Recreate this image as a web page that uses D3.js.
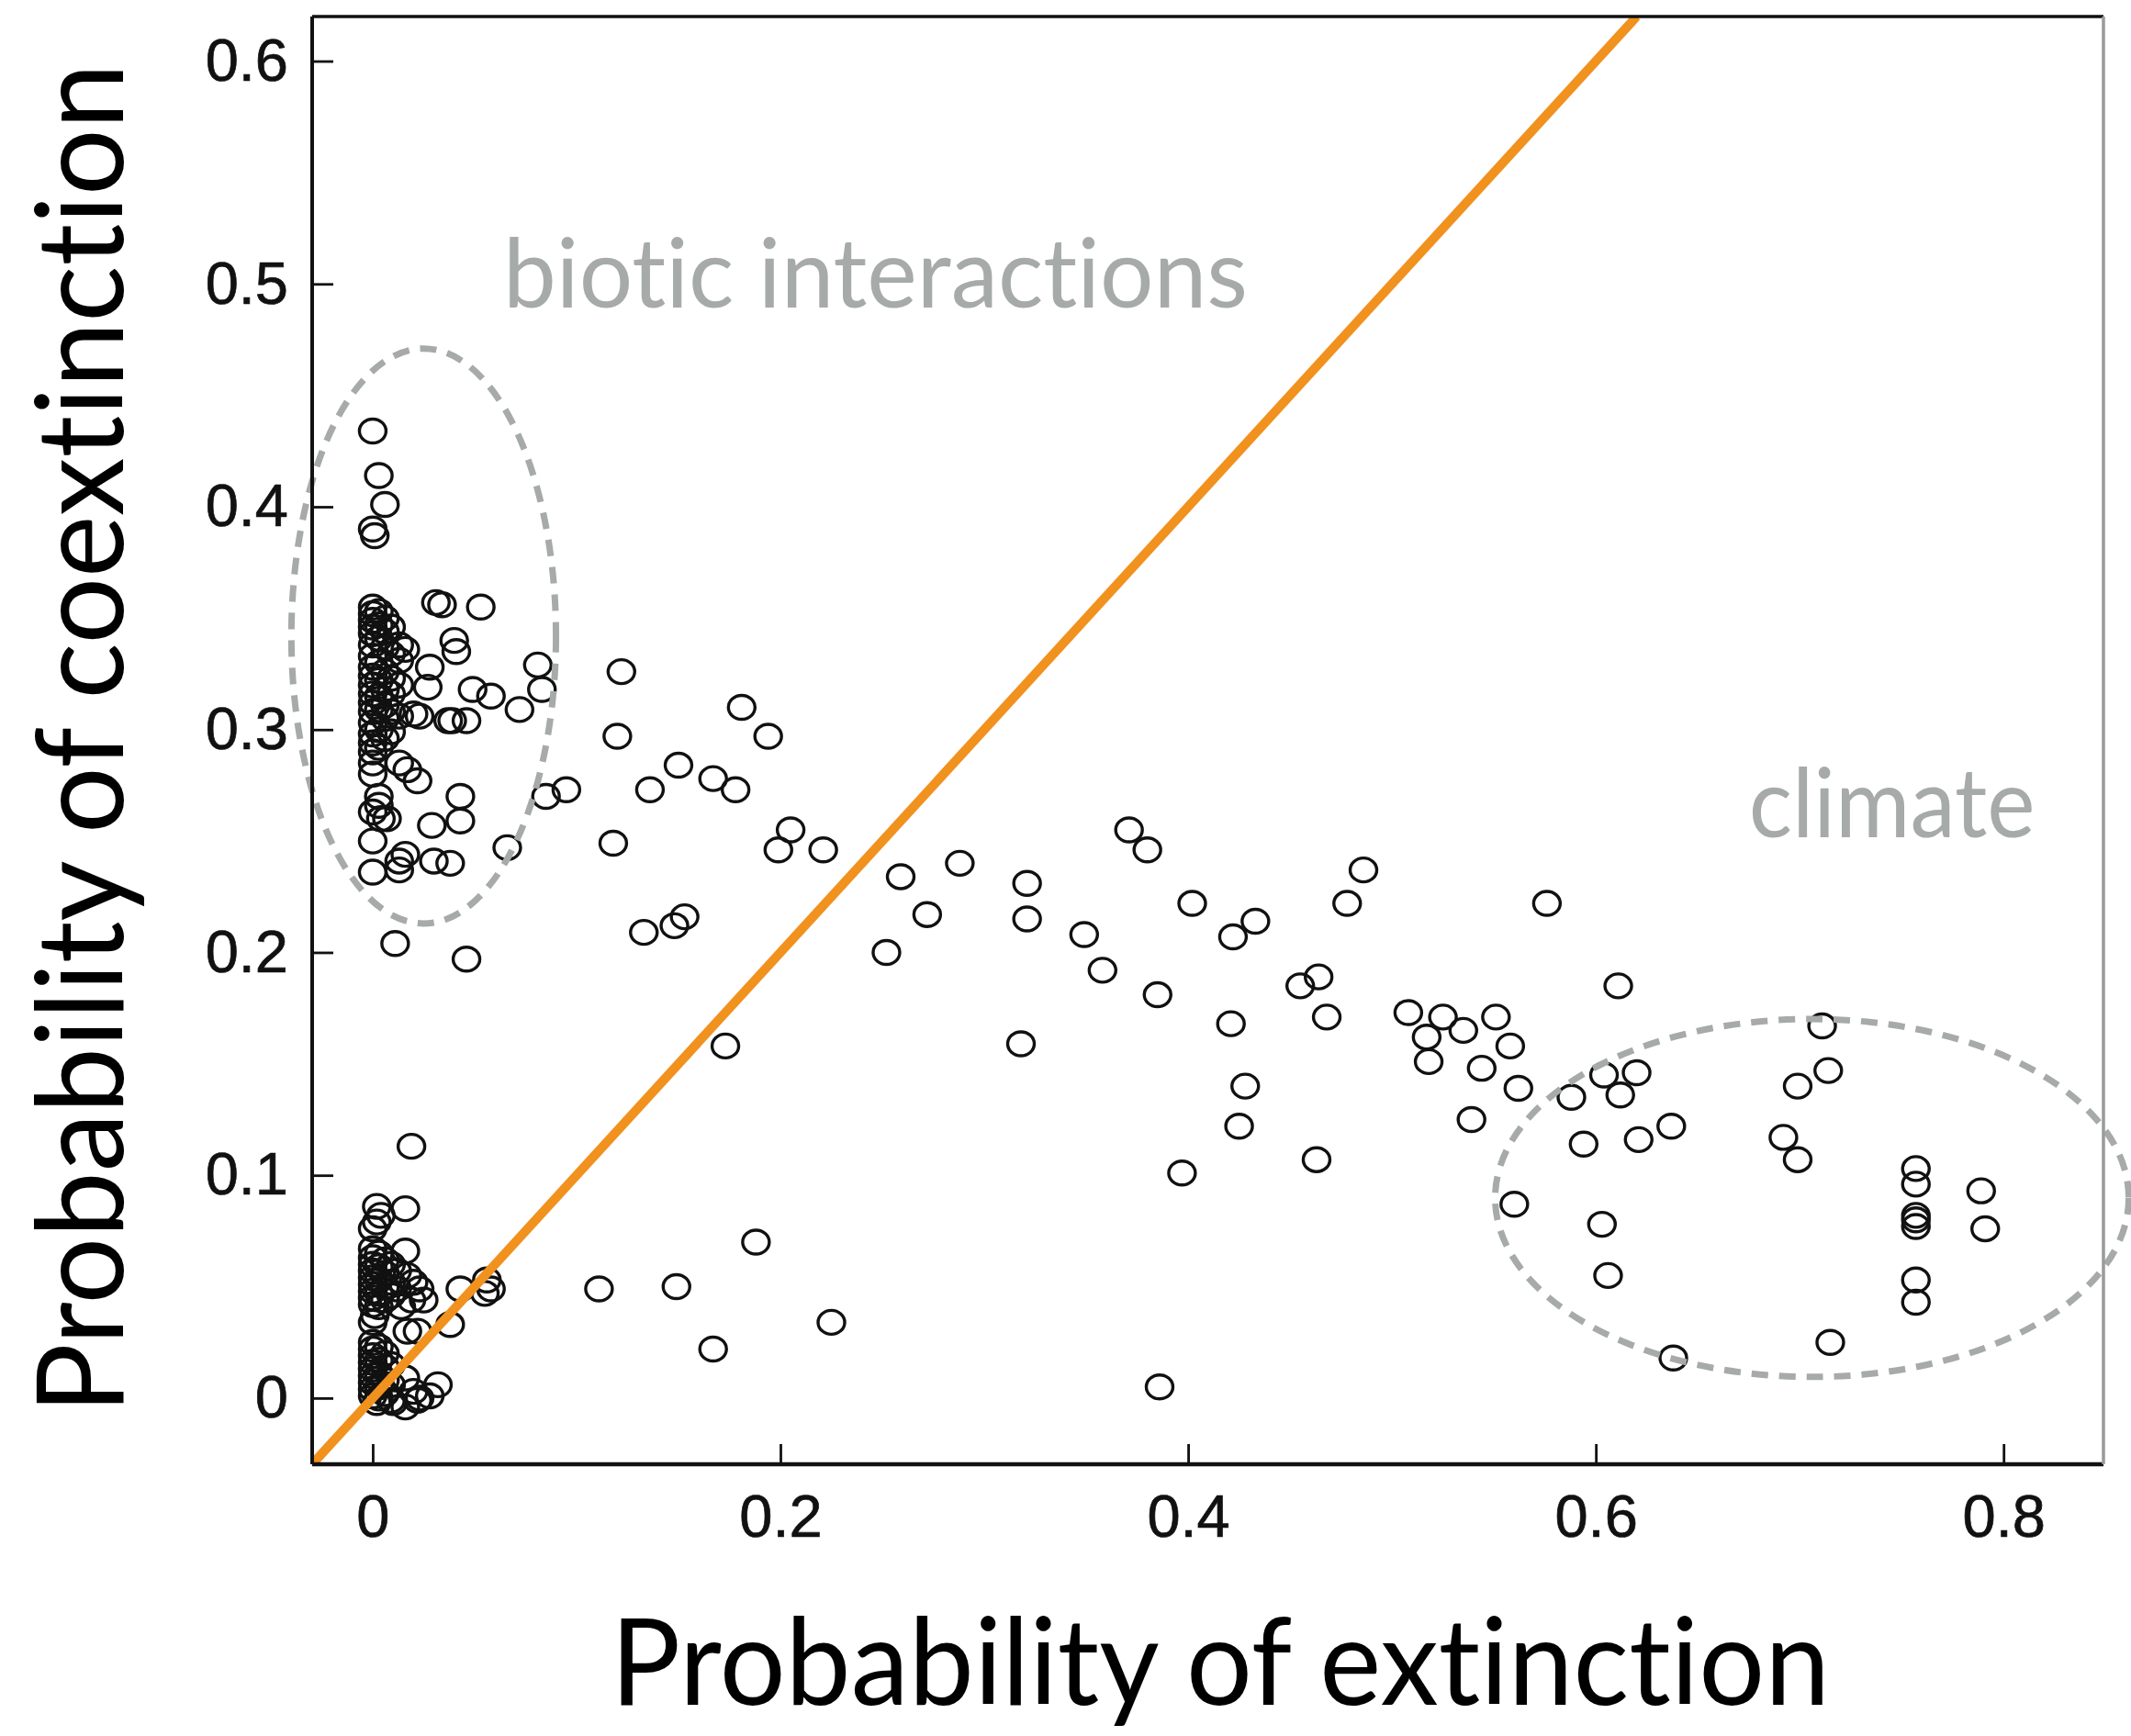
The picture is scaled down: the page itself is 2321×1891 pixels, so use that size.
<!DOCTYPE html>
<html>
<head>
<meta charset="utf-8">
<script src="https://cdn.jsdelivr.net/npm/d3@7"></script>
<style>
  body { margin: 0; background: #fff; }
  svg { display: block; }
  .humanist { font-family: Lato, 'Open Sans', sans-serif; font-variant-ligatures: none; font-feature-settings: "liga" 0, "dlig" 0, "clig" 0; }
</style>
</head>
<body>
<svg id="chart" width="2321" height="1891"></svg>
<script>
// [probability of extinction, probability of coextinction]
// Species with almost no direct extinction risk but high coextinction risk
const upperCluster = [
  [0.000,0.434],[0.003,0.414],[0.006,0.401],[0.000,0.390],[0.001,0.387],
  [0.000,0.355],[0.000,0.352],[0.000,0.349],[0.000,0.346],[0.000,0.343],[0.000,0.338],
  [0.000,0.333],[0.000,0.328],[0.000,0.324],[0.000,0.320],[0.000,0.316],[0.000,0.312],
  [0.000,0.308],[0.000,0.303],[0.000,0.298],[0.000,0.294],[0.000,0.290],[0.000,0.285],[0.000,0.280],
  [0.003,0.353],[0.003,0.347],[0.003,0.341],[0.003,0.330],[0.003,0.322],[0.003,0.315],
  [0.003,0.309],[0.003,0.300],[0.003,0.292],
  [0.006,0.350],[0.006,0.344],[0.006,0.337],[0.006,0.326],[0.006,0.318],[0.006,0.311],
  [0.006,0.305],[0.006,0.296],
  [0.009,0.346],[0.009,0.334],[0.009,0.323],[0.009,0.316],[0.009,0.308],[0.009,0.299],
  [0.013,0.338],[0.013,0.331],[0.013,0.320],[0.013,0.306],[0.016,0.336],
  [0.031,0.357],[0.034,0.356],[0.053,0.355],
  [0.040,0.340],[0.041,0.335],
  [0.028,0.328],[0.027,0.319],
  [0.049,0.318],[0.058,0.315],
  [0.081,0.329],[0.083,0.318],[0.072,0.309],
  [0.020,0.307],[0.023,0.306],
  [0.037,0.304],[0.039,0.304],[0.046,0.304],
  [0.013,0.285],[0.017,0.282],[0.022,0.277],
  [0.003,0.270],[0.043,0.270],[0.085,0.270],[0.095,0.273],
  [0.000,0.263],[0.004,0.260],[0.007,0.260],[0.003,0.266],
  [0.029,0.257],[0.043,0.259],
  [0.000,0.250],
  [0.016,0.244],[0.013,0.241],[0.030,0.241],[0.038,0.240],
  [0.000,0.236],[0.013,0.237],
  [0.066,0.247],
  [0.011,0.204],[0.046,0.197]
];

// Species with low extinction and low coextinction risk
const lowerCluster = [
  [0.019,0.113],[0.002,0.086],[0.004,0.082],[0.016,0.085],[0.002,0.079],[0.000,0.076],[0.016,0.066],
  [0.000,0.067],[0.000,0.063],[0.000,0.060],[0.000,0.057],[0.000,0.054],[0.000,0.051],
  [0.000,0.048],[0.000,0.045],[0.000,0.042],
  [0.003,0.065],[0.003,0.059],[0.003,0.053],[0.003,0.047],[0.003,0.041],
  [0.006,0.062],[0.006,0.056],[0.006,0.050],[0.006,0.044],
  [0.009,0.060],[0.009,0.052],[0.009,0.046],
  [0.012,0.057],[0.012,0.049],
  [0.017,0.055],[0.020,0.052],[0.023,0.049],[0.025,0.044],[0.019,0.044],[0.014,0.041],
  [0.043,0.049],[0.056,0.053],[0.058,0.049],[0.055,0.047],
  [0.000,0.034],[0.001,0.037],[0.017,0.030],[0.022,0.030],[0.038,0.033],
  [0.000,0.025],[0.000,0.022],[0.000,0.019],[0.000,0.016],[0.000,0.013],[0.000,0.010],
  [0.000,0.007],[0.000,0.004],[0.000,0.001],
  [0.003,0.023],[0.003,0.017],[0.003,0.011],[0.003,0.005],[0.003,0.000],
  [0.006,0.020],[0.006,0.014],[0.006,0.008],[0.006,0.002],
  [0.009,0.015],[0.009,0.006],[0.009,-0.001],
  [0.016,0.009],[0.020,0.003],[0.023,0.000],[0.028,0.001],[0.032,0.006],
  [0.016,-0.004],[0.010,-0.002],[0.022,-0.001],[0.002,-0.002]
];

// Species spread along the extinction gradient
const spreadSpecies = [
  [0.122,0.326],[0.120,0.297],[0.118,0.249],[0.136,0.273],[0.150,0.284],[0.133,0.209],
  [0.148,0.212],[0.153,0.216],[0.167,0.278],[0.178,0.273],[0.181,0.310],[0.194,0.297],
  [0.199,0.246],[0.205,0.255],[0.221,0.246],[0.173,0.158],[0.259,0.234],[0.252,0.200],
  [0.272,0.217],[0.288,0.240],[0.321,0.231],[0.321,0.215],[0.318,0.159],[0.349,0.208],
  [0.358,0.192],[0.371,0.255],[0.380,0.246],[0.385,0.181],[0.402,0.222],[0.397,0.101],
  [0.421,0.168],[0.422,0.207],[0.433,0.214],[0.428,0.140],[0.425,0.122],[0.455,0.185],
  [0.464,0.189],[0.468,0.171],[0.463,0.107],[0.478,0.222],[0.486,0.237],[0.508,0.173],
  [0.525,0.171],[0.517,0.162],[0.518,0.151],[0.535,0.165],[0.551,0.171],[0.544,0.148],
  [0.558,0.158],[0.562,0.139],[0.539,0.125],[0.576,0.222],[0.588,0.135],[0.594,0.114],
  [0.604,0.145],[0.612,0.136],[0.620,0.146],[0.621,0.116],[0.611,0.185],[0.637,0.122],
  [0.560,0.087],[0.603,0.078],[0.606,0.055],[0.638,0.018],[0.692,0.117],[0.699,0.107],
  [0.699,0.140],[0.711,0.167],[0.714,0.147],[0.715,0.025],[0.757,0.103],[0.757,0.096],
  [0.757,0.082],[0.757,0.080],[0.757,0.077],[0.757,0.053],[0.757,0.043],[0.789,0.093],
  [0.791,0.076],
  [0.111,0.049],[0.149,0.050],[0.167,0.022],[0.188,0.070],[0.225,0.034],[0.386,0.005]
];

const xTickValues = [0, 0.2, 0.4, 0.6, 0.8];
const yTickValues = [0, 0.1, 0.2, 0.3, 0.4, 0.5, 0.6];
const xTitle = "Probability of extinction";
const yTitle = "Probability of coextinction";

// Highlighted regions, in data units (extinction, coextinction)
const regionNames = ["biotic interactions", "climate"];
const regionCenters = [[0.025, 0.342], [0.706, 0.0898]];
const regionRadii = [[0.0649, 0.129], [0.1554, 0.0803]];
const regionLabelAnchors = [[0.064, 0.4895], [0.675, 0.2518]];
const regionLabelWidths = [811, 312];

const allSpecies = upperCluster.concat(lowerCluster, spreadSpecies);

const svg = d3.select("#chart");
const plot = { left: 340, top: 18, right: 2291, bottom: 1595 };

const x = d3.scaleLinear().domain([-0.0297, 0.849]).range([plot.left, plot.right]);
const y = d3.scaleLinear().domain([-0.0297, 0.620]).range([plot.bottom, plot.top]);

const fmt = d => String(+d.toFixed(1));
const grey = "#a6aaa9";
const ink = "#111";

svg.append("defs").append("clipPath").attr("id", "plot-clip")
  .append("rect")
  .attr("x", plot.left).attr("y", plot.top)
  .attr("width", plot.right - plot.left).attr("height", plot.bottom - plot.top);

// axes with inward ticks
const xAxis = svg.append("g")
  .attr("transform", `translate(0,${plot.bottom})`)
  .call(d3.axisBottom(x).tickValues(xTickValues).tickFormat(fmt).tickSize(-22).tickPadding(33));
const yAxis = svg.append("g")
  .attr("transform", `translate(${plot.left},0)`)
  .call(d3.axisLeft(y).tickValues(yTickValues).tickFormat(fmt).tickSize(-23).tickPadding(26));

[xAxis, yAxis].forEach(g => {
  g.select(".domain").remove();
  g.selectAll(".tick line").attr("stroke", ink).attr("stroke-width", 2.8);
  g.selectAll(".tick text")
    .attr("fill", ink)
    .attr("stroke", ink)
    .attr("stroke-width", 0.7)
    .style("font-family", "'Liberation Sans', Arial, Helvetica, sans-serif")
    .style("font-size", "65px");
});

// species points (open circles)
svg.append("g")
  .selectAll("ellipse")
  .data(allSpecies)
  .join("ellipse")
  .attr("cx", d => x(d[0]))
  .attr("cy", d => y(d[1]))
  .attr("rx", 14.5)
  .attr("ry", 13)
  .attr("fill", "none")
  .attr("stroke", ink)
  .attr("stroke-width", 3.4);

// dashed outlines around the two groups
svg.append("g")
  .selectAll("ellipse")
  .data(regionNames.map((n, i) => ({ c: regionCenters[i], r: regionRadii[i] })))
  .join("ellipse")
  .attr("cx", d => x(d.c[0]))
  .attr("cy", d => y(d.c[1]))
  .attr("rx", d => x(d.c[0] + d.r[0]) - x(d.c[0]))
  .attr("ry", d => y(d.c[1]) - y(d.c[1] + d.r[1]))
  .attr("fill", "none")
  .attr("stroke", grey)
  .attr("stroke-width", 7)
  .attr("stroke-dasharray", "18 12");

// group labels
svg.append("g")
  .selectAll("text")
  .data(regionNames.map((n, i) => ({ n, a: regionLabelAnchors[i], w: regionLabelWidths[i] })))
  .join("text")
  .attr("class", "humanist")
  .attr("x", d => x(d.a[0]))
  .attr("y", d => y(d.a[1]))
  .attr("textLength", d => d.w)
  .attr("lengthAdjust", "spacingAndGlyphs")
  .attr("fill", grey)
  .style("font-size", "104px")
  .text(d => d.n);

// 1:1 line
const diag = d3.line().x(d => x(d)).y(d => y(d));
svg.append("path")
  .attr("clip-path", "url(#plot-clip)")
  .attr("d", diag([-0.0297, 0.62]))
  .attr("fill", "none")
  .attr("stroke", "#f1911e")
  .attr("stroke-width", 10);

// plot frame
const frame = svg.append("g").attr("stroke-width", 3.5);
frame.append("line").attr("x1", plot.left).attr("x2", plot.right).attr("y1", plot.top).attr("y2", plot.top).attr("stroke", ink);
frame.append("line").attr("x1", plot.left).attr("x2", plot.left).attr("y1", plot.top).attr("y2", plot.bottom).attr("stroke", ink).attr("stroke-width", 4);
frame.append("line").attr("x1", plot.left).attr("x2", plot.right).attr("y1", plot.bottom).attr("y2", plot.bottom).attr("stroke", ink).attr("stroke-width", 4.5);
frame.append("line").attr("x1", plot.right).attr("x2", plot.right).attr("y1", plot.top).attr("y2", plot.bottom).attr("stroke", "#9a9a9a");

// axis titles
svg.append("text")
  .attr("class", "humanist")
  .attr("x", 665).attr("y", 1857)
  .attr("textLength", 1328)
  .attr("lengthAdjust", "spacingAndGlyphs")
  .attr("fill", "#000")
  .style("font-size", "131px")
  .text(xTitle);

svg.append("text")
  .attr("class", "humanist")
  .attr("transform", "translate(134,1540) rotate(-90)")
  .attr("textLength", 1471)
  .attr("lengthAdjust", "spacingAndGlyphs")
  .attr("fill", "#000")
  .style("font-size", "131px")
  .text(yTitle);
</script>
</body>
</html>
